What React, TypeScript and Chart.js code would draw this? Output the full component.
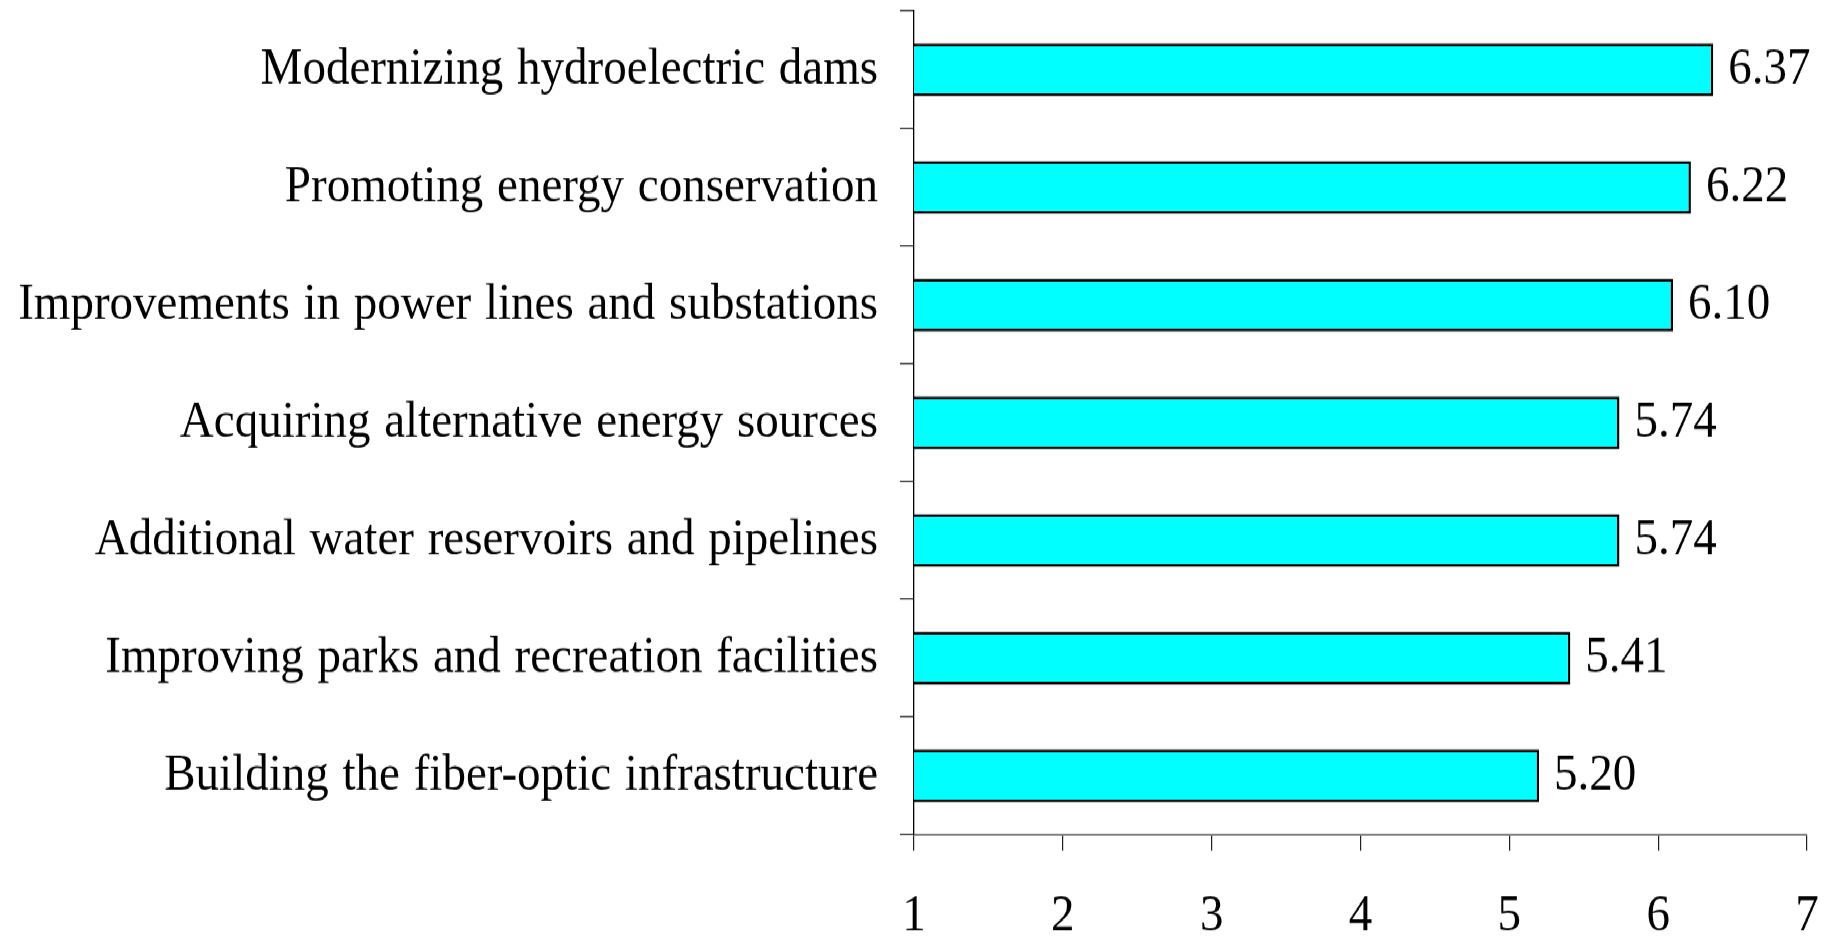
import { useEffect, useRef } from "react";
import { Chart, registerables } from "chart.js";

Chart.register(...registerables);

const categories = [
  "Modernizing hydroelectric dams",
  "Promoting energy conservation",
  "Improvements in power lines and substations",
  "Acquiring alternative energy sources",
  "Additional water reservoirs and pipelines",
  "Improving parks and recreation facilities",
  "Building the fiber-optic infrastructure",
];
const values = [6.37, 6.22, 6.1, 5.74, 5.74, 5.41, 5.2];
const valueLabels = ["6.37", "6.22", "6.10", "5.74", "5.74", "5.41", "5.20"];
const xTicks = [1, 2, 3, 4, 5, 6, 7];

const FONT_FAMILY = '"Liberation Serif", "Times New Roman", serif';
const FONT_SIZE = 47;
const CANVAS_W = 1830;
const CANVAS_H = 852;
const VIEW_H = 937;

const zeroPad = (s: any) => {
  s.paddingTop = 0;
  s.paddingBottom = 0;
  s.paddingLeft = 0;
  s.paddingRight = 0;
};

const spacingPlugin = {
  id: "wordSpacing",
  beforeDraw(chart: any) {
    try {
      (chart.ctx as any).wordSpacing = "2px";
    } catch (e) {
      /* ignore */
    }
  },
};

const valueLabelPlugin = {
  id: "valueLabels",
  afterDatasetsDraw(chart: any) {
    const ctx = chart.ctx;
    const meta = chart.getDatasetMeta(0);
    ctx.save();
    ctx.font = `${FONT_SIZE}px ${FONT_FAMILY}`;
    ctx.fillStyle = "#000";
    ctx.textAlign = "left";
    ctx.textBaseline = "middle";
    meta.data.forEach((el: any, i: number) => {
      ctx.fillText(valueLabels[i], el.x + 15, el.y);
    });
    ctx.restore();
  },
};

export default function App() {
  const ref = useRef<HTMLCanvasElement | null>(null);

  useEffect(() => {
    if (!ref.current) return;
    const font = { family: FONT_FAMILY, size: FONT_SIZE };
    const chart = new Chart(ref.current, {
      type: "bar",
      data: {
        labels: categories,
        datasets: [
          {
            data: values,
            backgroundColor: "#00FFFF",
            borderColor: "#000000",
            borderWidth: 2.5,
            borderSkipped: false,
            barPercentage: 0.45,
            categoryPercentage: 1,
          },
        ],
      },
      options: {
        indexAxis: "y",
        responsive: false,
        animation: false,
        devicePixelRatio: 1,
        layout: { padding: { top: 10, right: 23, left: 0, bottom: 0 } },
        plugins: {
          legend: { display: false },
          tooltip: { enabled: false },
        },
        scales: {
          x: {
            type: "linear",
            position: "bottom",
            min: 1,
            max: 7,
            afterFit: (s: any) => {
              s.height = 93;
              zeroPad(s);
            },
            afterBuildTicks: (s: any) => {
              s.ticks = xTicks.map((v) => ({ value: v }));
            },
            ticks: {
              font,
              color: "#000",
              padding: 32,
              autoSkip: false,
              maxRotation: 0,
            },
            grid: {
              drawOnChartArea: false,
              drawTicks: true,
              tickLength: 14.5,
              color: "#222",
              lineWidth: 1.2,
            },
            border: { display: true, color: "#808080", width: 2 },
          },
          y: {
            type: "category",
            afterFit: (s: any) => {
              s.width = 914;
              zeroPad(s);
            },
            ticks: { font, color: "#000", padding: 22, autoSkip: false },
            grid: {
              offset: true,
              drawOnChartArea: false,
              drawTicks: true,
              tickLength: 14,
              color: "#222",
              lineWidth: 1.2,
            },
            border: { display: true, color: "#000", width: 1.3 },
          },
        },
      },
      plugins: [spacingPlugin, valueLabelPlugin],
    } as any);
    return () => chart.destroy();
  }, []);

  return (
    <div
      style={{
        position: "fixed",
        left: 0,
        top: 0,
        width: CANVAS_W,
        height: CANVAS_H,
        background: "#fff",
        transform: `scaleY(${VIEW_H / CANVAS_H})`,
        transformOrigin: "0 0",
      }}
    >
      <canvas
        ref={ref}
        width={CANVAS_W}
        height={CANVAS_H}
        style={{ width: CANVAS_W, height: CANVAS_H, display: "block" }}
      />
    </div>
  );
}
